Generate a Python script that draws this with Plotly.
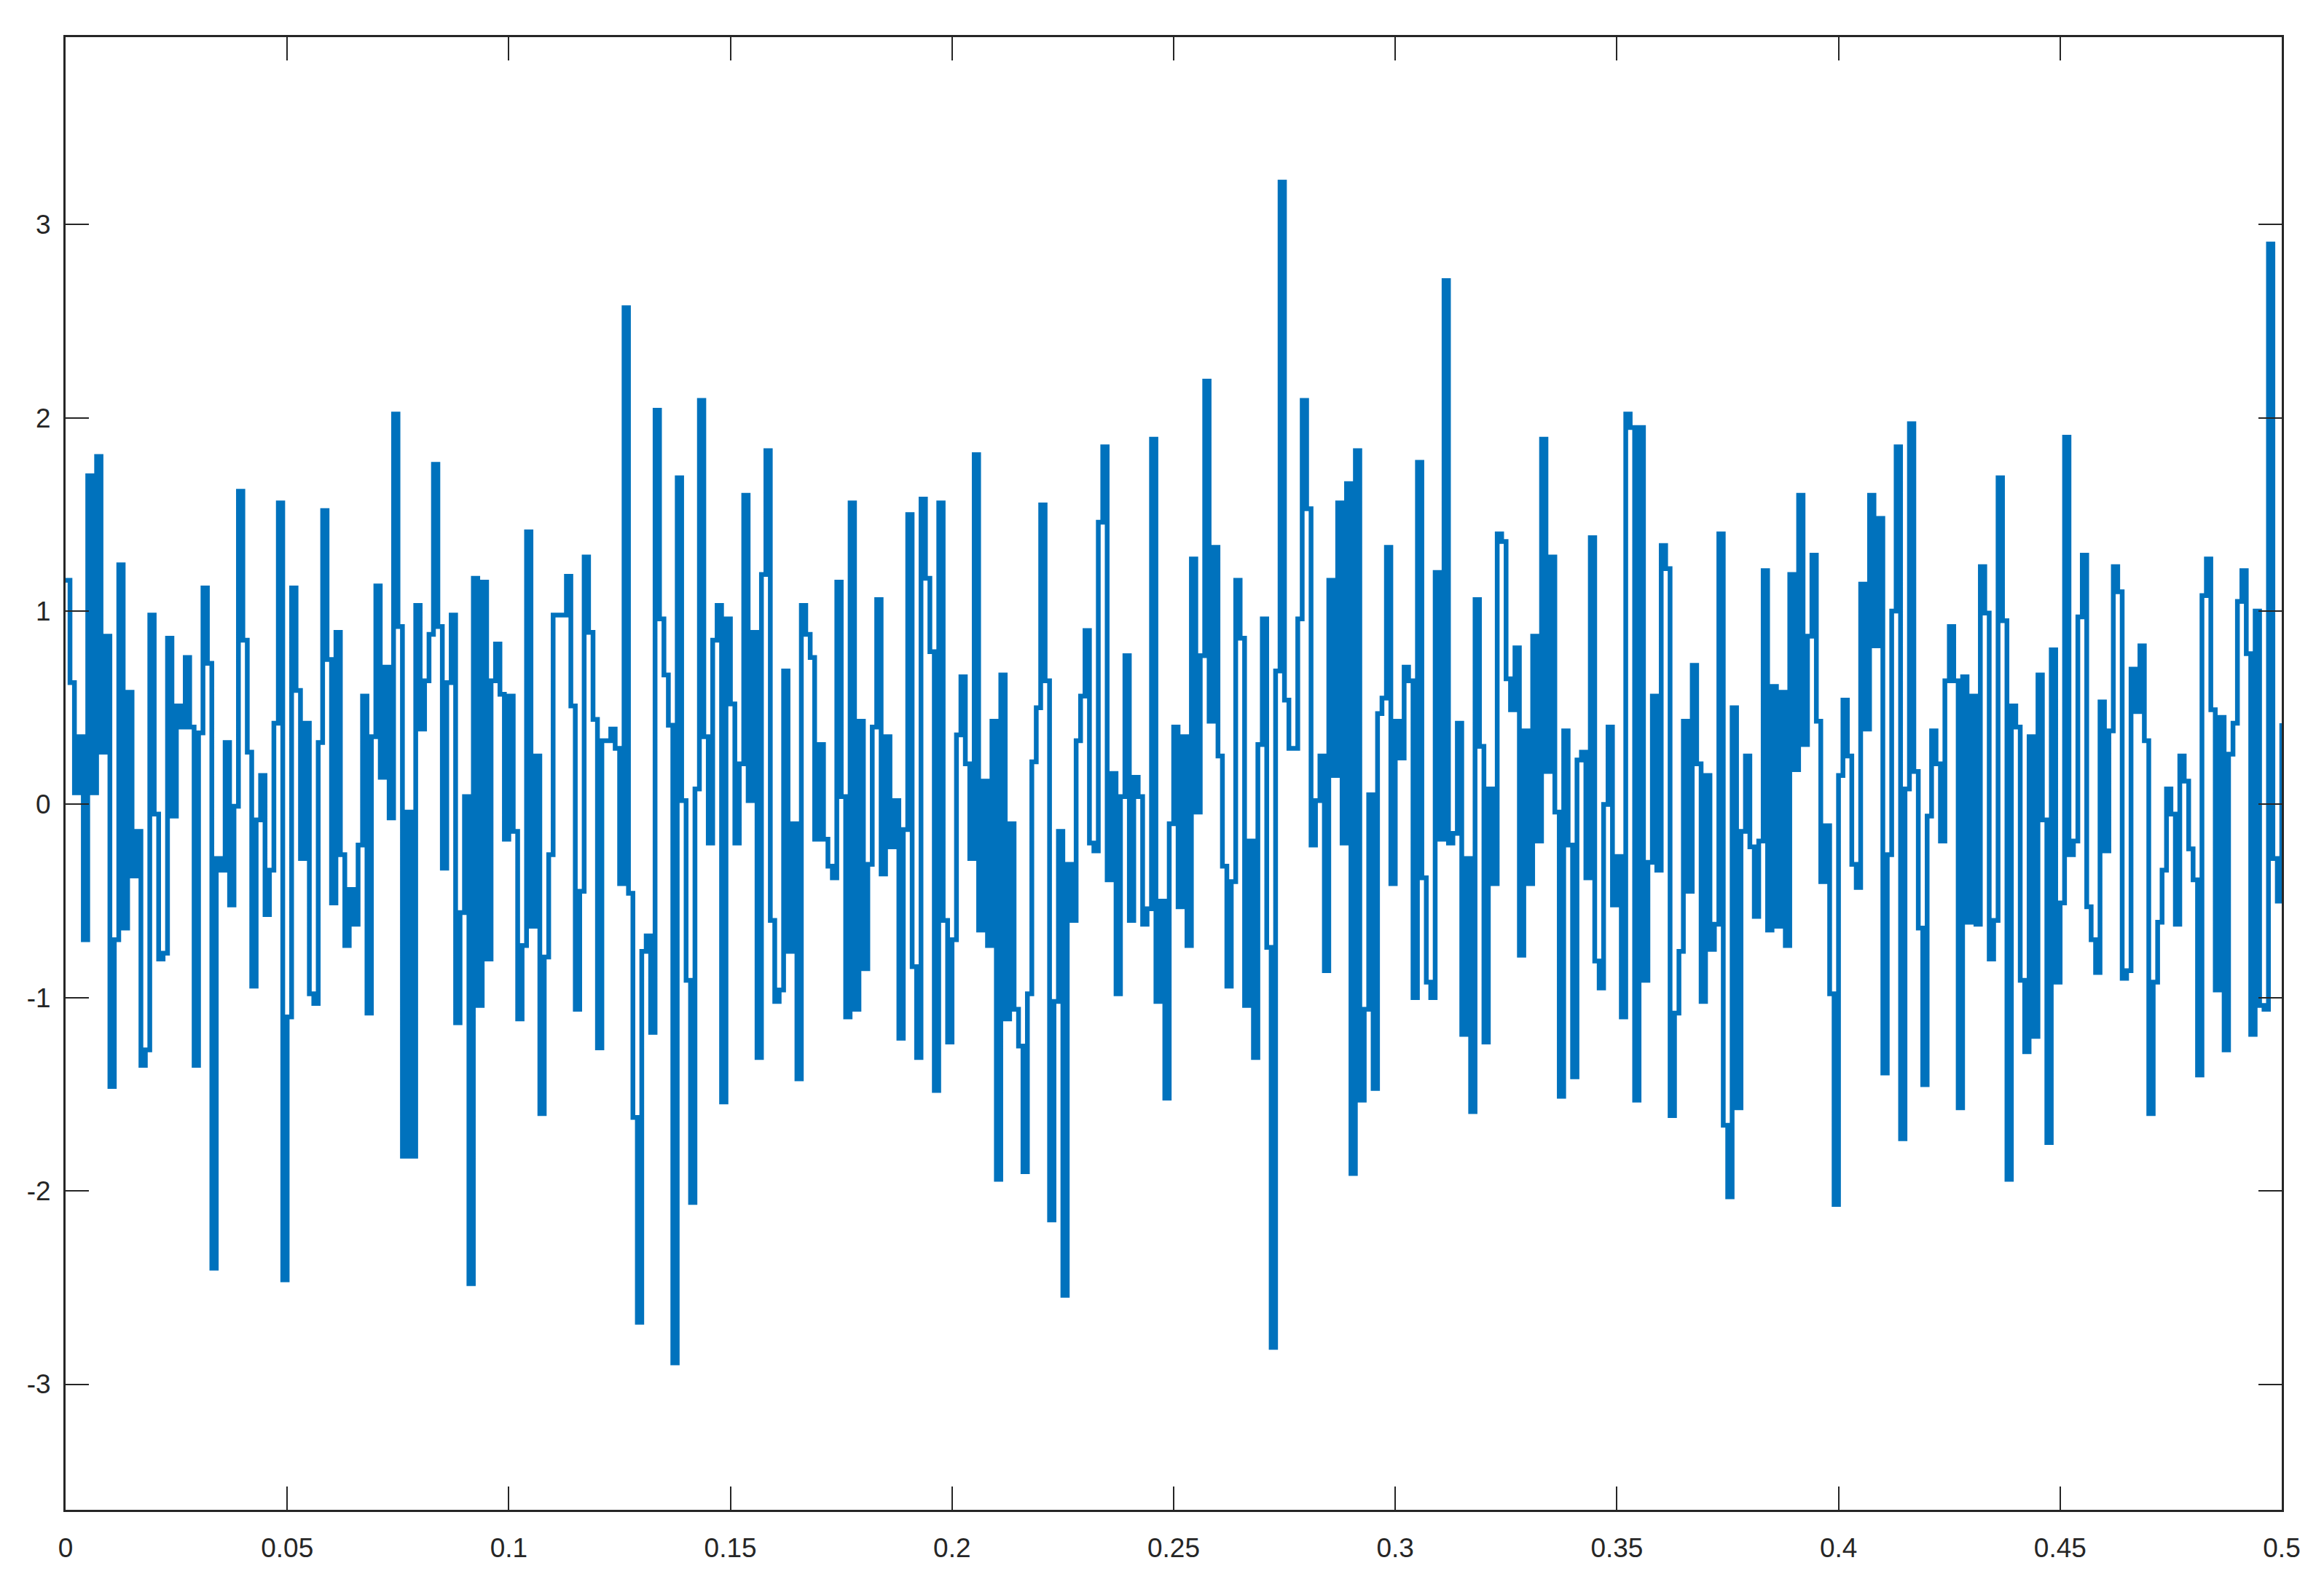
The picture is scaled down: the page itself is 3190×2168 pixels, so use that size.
import numpy as np
import plotly.graph_objects as go

# sample spacing of the staircase signal
t_step = 0.001

# signal values, 100 samples per block
signal_a = [
    1.16, 0.63, 0.06, 0.35, -0.70, 1.70, 0.06, 1.80, 0.27, 0.87,
    -1.46, -0.70, 1.24, -0.64, 0.58, -0.37, -0.14, -1.35, -1.27, 0.98,
    -0.05, -0.80, -0.77, 0.86, -0.06, 0.51, 0.40, 0.76, 0.40, -1.35,
    0.37, 1.12, 0.73, -2.40, -0.28, -0.34, 0.32, -0.52, -0.01, 1.62,
    0.85, 0.27, -0.94, -0.08, 0.15, -0.57, -0.34, 0.42, 1.56, -2.46,
    -1.10, 1.12, 0.59, -0.28, 0.42, -0.98, -1.03, 0.32, 1.52, 0.75,
    -0.51, 0.89, -0.26, -0.73, -0.44, -0.62, -0.21, 0.56, -1.08, 0.35,
    1.13, 0.14, 0.71, -0.07, 2.02, 0.92, -1.82, -0.04, -1.82, 1.03,
    0.39, 0.64, 0.88, 1.76, 0.92, -0.33, 0.63, 0.98, -1.13, -0.56,
    0.04, -2.48, 1.17, -1.04, 1.15, -0.80, 0.64, 0.83, 0.57, -0.18,
]
signal_b = [
    0.56, -0.14, -1.11, -0.73, 1.41, -0.63, 0.25, -1.60, -0.79, -0.26,
    0.98, 0.98, 0.98, 1.18, 0.51, -1.06, -0.45, 1.28, 0.89, 0.44,
    -1.26, 0.33, 0.33, 0.39, 0.29, -0.41, 2.57, -0.46, -1.62, -2.68,
    -0.76, -0.68, -1.18, 2.04, 0.96, 0.67, 0.41, -2.89, 1.69, 0.02,
    -0.91, -2.06, 0.08, 2.09, 0.35, -0.20, 0.85, 1.03, -1.54, 0.96,
    0.52, -0.20, 0.21, 1.60, 0.02, 0.89, -1.31, 1.19, 1.83, -0.60,
    -1.02, -0.96, 0.69, -0.76, -0.10, -1.42, 1.03, 0.88, 0.76, -0.18,
    0.31, -0.18, -0.32, -0.38, 1.15, 0.04, -1.10, 1.56, -1.06, 0.43,
    -0.85, -0.31, 0.40, 1.06, -0.36, 0.35, -0.22, 0.02, -1.21, -0.13,
    1.50, -0.84, -1.31, 1.58, 1.17, 0.79, -1.48, 1.56, -0.60, -1.23,
]
signal_c = [
    -0.70, 0.36, 0.66, 0.21, -0.28, 1.81, -0.65, 0.12, -0.73, 0.43,
    -1.94, 0.67, -1.11, -0.10, -1.06, -1.25, -1.90, -0.98, 0.22, 0.50,
    1.55, 0.64, -2.15, -1.02, -0.14, -2.54, -0.31, -0.60, 0.33, 0.56,
    0.90, -0.20, -0.24, 1.46, 1.85, -0.39, 0.16, -0.98, 0.04, 0.77,
    -0.60, 0.14, 0.04, -0.62, -0.54, 1.89, -1.02, -0.50, -1.52, -0.10,
    0.40, -0.53, 0.35, -0.73, 1.27, -0.04, 0.77, 2.19, 0.43, 1.33,
    0.25, -0.32, -0.94, -0.40, 1.16, 0.86, -1.04, -0.19, -1.31, 0.31,
    0.96, -0.74, -2.81, 0.69, 3.22, 0.54, 0.29, 0.29, 0.96, 2.09,
    1.53, -0.21, 0.02, 0.25, -0.86, 1.16, 0.15, 1.56, -0.20, 1.66,
    -1.91, 1.83, -1.53, -1.06, 0.05, -1.47, 0.47, 0.55, 1.33, -0.41,
]
signal_d = [
    0.43, 0.24, 0.71, 0.64, -1.00, 1.77, -0.38, -0.92, -1.00, 1.20,
    -0.18, 2.71, -0.20, -0.15, 0.42, -1.19, -0.28, -1.59, 1.06, 0.30,
    -1.23, 0.08, -0.41, 1.40, 1.36, 0.65, 0.49, 0.81, -0.78, 0.38,
    -0.41, 0.87, -0.19, 1.89, 0.17, 1.28, -0.04, -1.51, 0.38, -0.21,
    -1.41, 0.23, 0.27, -0.38, 1.38, -0.81, -0.95, 0.00, 0.40, -0.52,
    -0.27, -1.10, 2.02, 1.95, -1.53, 1.95, -0.91, -0.30, 0.56, -0.34,
    1.34, 1.22, -1.61, -1.08, -0.76, 0.43, -0.45, 0.72, 0.21, -1.02,
    0.15, -0.75, -0.62, 1.40, -1.66, -2.03, 0.50, -1.57, -0.14, 0.25,
    -0.22, -0.58, -0.19, 1.21, -0.65, 0.61, -0.63, 0.58, -0.73, 1.19,
    0.18, 1.60, 0.31, 0.87, 1.29, 0.43, -0.40, -0.11, -0.98, -2.07,
]
signal_e = [
    0.15, 0.54, 0.25, -0.31, -0.43, 1.14, 0.39, 1.60, 0.82, 1.48,
    -1.39, -0.26, 1.00, 1.85, -1.73, 0.08, 1.97, 0.17, -0.64, -1.45,
    -0.06, 0.38, 0.21, -0.19, 0.64, 0.92, 0.64, -1.57, 0.66, -0.61,
    0.56, -0.62, 1.23, 0.99, -0.80, -0.60, 1.69, 0.95, -1.94, 0.51,
    0.40, -0.91, -1.28, 0.35, -1.20, 0.67, -0.08, -1.75, 0.80, -0.92,
    -0.51, 1.90, -0.26, -0.19, 0.97, 1.29, -0.53, -0.70, -0.87, 0.53,
    -0.24, 0.38, 1.23, 1.10, -0.90, -0.86, 0.70, 0.48, 0.82, 0.33,
    -1.60, -0.92, -0.61, -0.34, 0.08, -0.05, -0.62, 0.25, 0.12, -0.23,
    -0.39, -1.40, 1.08, 1.27, 0.49, -0.96, 0.45, -1.27, 0.26, 0.42,
    1.05, 1.21, 0.78, -1.19, 1.00, -1.04, -1.06, 2.90, -0.28, -0.50,
    0.42,
]

x_ticks = [0, 0.05, 0.1, 0.15, 0.2, 0.25, 0.3, 0.35, 0.4, 0.45, 0.5]
x_tick_labels = ['0', '0.05', '0.1', '0.15', '0.2', '0.25', '0.3', '0.35', '0.4', '0.45', '0.5']
y_ticks = [-3, -2, -1, 0, 1, 2, 3]
y_tick_labels = ['-3', '-2', '-1', '0', '1', '2', '3']

signal = signal_a + signal_b + signal_c + signal_d + signal_e
t = np.arange(len(signal)) * t_step

ink = '#262626'

fig = go.Figure()
fig.add_trace(go.Scatter(
    x=t, y=signal, mode='lines',
    line=dict(shape='hv', color='#0072BD', width=6.5),
    showlegend=False, hoverinfo='skip',
))

axis_style = dict(
    showline=True, linecolor=ink, linewidth=3, mirror='ticks',
    ticks='inside', ticklen=32, tickwidth=2, tickcolor=ink,
    showgrid=False, zeroline=False,
)

fig.update_xaxes(range=[0, 0.5], tickvals=x_ticks, ticktext=x_tick_labels,
                 ticklabelstandoff=18, **axis_style)
fig.update_yaxes(range=[-3.65, 3.97], tickvals=y_ticks, ticktext=y_tick_labels,
                 ticklabelstandoff=10, **axis_style)

# page body adds an 8px offset, so margins are shifted to compensate
fig.update_layout(
    width=3190, height=2168, autosize=False,
    margin=dict(l=82, r=66, t=43, b=103),
    paper_bgcolor='white', plot_bgcolor='white',
    font=dict(family='Liberation Sans, Arial, sans-serif', size=37, color=ink),
)

fig.write_html('out.html')
